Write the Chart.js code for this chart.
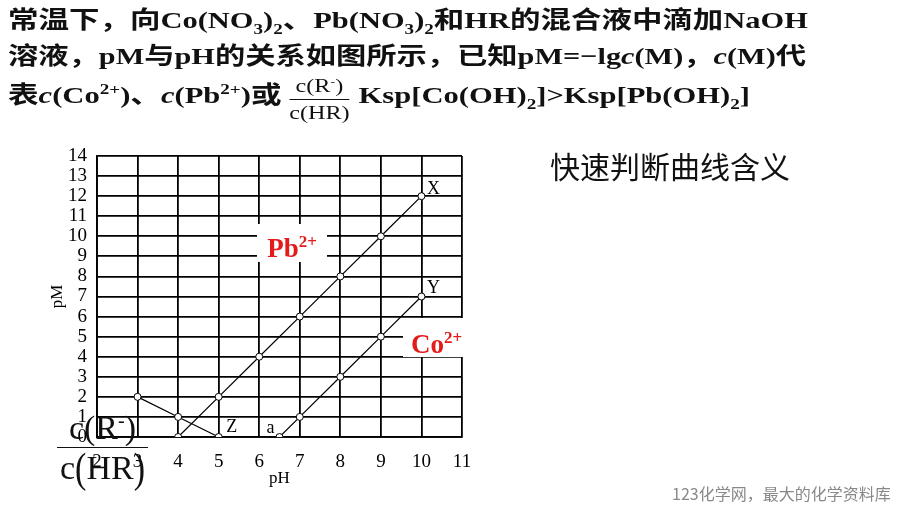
<!DOCTYPE html>
<html lang="zh">
<head>
<meta charset="UTF-8">
<title>pM - pH</title>
<style>
    body { margin: 0; width: 900px; height: 506px; background: #fff; position: relative; overflow: hidden; }
    .serif { font-family: 'Liberation Serif', 'Noto Sans CJK SC', serif; }
    .q { position: absolute; left: 8px; font-size: 24px; font-weight: bold; color: #111; line-height: 30px; white-space: nowrap; transform-origin: left center; }
    .q sub, .q sup { font-size: 15px; line-height: 0; }
    .frac { display: inline-block; vertical-align: middle; text-align: center; font-weight: normal; font-size: 19px; line-height: 22px; margin: 0 7px 0 6px; position: relative; top: 2px; }
    .frac .num { border-bottom: 1px solid #111; padding: 0 3px 2px; }
    .frac .den { padding-top: 2px; }
    #chartBox { position: absolute; left: 0; top: 0; }
    .tag { position: absolute; background: #fff; color: #e31b1b; font-weight: bold; font-size: 27px; text-align: center; }
    .tag sup { font-size: 17px; }
    #big { position: absolute; left: 57px; top: 402px; width: 91px; text-align: center; font-size: 34px; color: #111; }
    #big .num { line-height: 36px; border-bottom: 1.5px solid #111; padding-bottom: 1px; }
    #big .den { line-height: 40px; }
    #big .p { display: inline-block; transform: scaleY(1.25); }
    #side { position: absolute; left: 550px; top: 143px; font-family: 'Noto Sans CJK SC', sans-serif; font-size: 30px; color: #111; }
    #foot { position: absolute; left: 672px; top: 481px; font-family: 'Noto Sans CJK SC', sans-serif; font-size: 16px; color: #888; }
</style>
</head>
<body>
<div id="chartBox"><canvas id="c" width="900" height="506"></canvas></div>

<div class="q serif" style="top:5px;" data-w="800">常温下，向Co(NO<sub>3</sub>)<sub>2</sub>、Pb(NO<sub>3</sub>)<sub>2</sub>和HR的混合液中滴加NaOH</div>
<div class="q serif" style="top:41px;" data-w="798">溶液，pM与pH的关系如图所示，已知pM=−lg<i>c</i>(M)，<i>c</i>(M)代</div>
<div class="q serif" style="top:73px;" data-w="742">表<i>c</i>(Co<sup>2+</sup>)、<i>c</i>(Pb<sup>2+</sup>)或<span class="frac"><div class="num">c(R<sup style="font-size:11px">-</sup>)</div><div class="den">c(HR)</div></span>Ksp[Co(OH)<sub>2</sub>]&gt;Ksp[Pb(OH)<sub>2</sub>]</div>

<div class="tag serif" style="left:257px; top:224px; width:70px; height:38px; line-height:36px;">Pb<sup>2+</sup></div>
<div class="tag serif" style="left:403px; top:318px; width:67px; height:39px; line-height:40px;">Co<sup>2+</sup></div>

<div id="big" class="serif"><div class="num">c(R<sup style="font-size:20px">-</sup>)</div><div class="den">c<span class="p">(</span>HR<span class="p">)</span></div></div>

<div id="side">快速判断曲线含义</div>
<div id="foot">123化学网，最大的化学资料库</div>

<script src="https://cdn.jsdelivr.net/npm/chart.js"></script>
<script>
    // values
    const pbPH = [4, 5, 6, 7, 8, 9, 10];
    const pbPM = [0, 2, 4, 6, 8, 10, 12];
    const coPH = [6.5, 7, 8, 9, 10];
    const coPM = [0, 1, 3, 5, 7];
    const hrPH = [3, 4, 5];
    const hrPM = [2, 1, 0];

    // letters next to some points: [dataset, point index, text]
    const pointTags = [[0, 6, 'X'], [1, 4, 'Y'], [2, 2, 'Z'], [1, 0, 'a']];
    const tagOffset = { X: [12, -7], Y: [12, -8], Z: [13, -10], a: [-9, -9] };

    const serif = "'Liberation Serif', 'Times New Roman', serif";

    // the question text in the picture is stretched sideways, fit each line to its width
    document.querySelectorAll('.q').forEach(el => {
        const w = el.getBoundingClientRect().width;
        el.style.transform = 'scaleX(' + (parseFloat(el.dataset.w) / w) + ')';
    });

    function toPts(xs, ys) {
        return xs.map((x, i) => ({ x: x, y: ys[i] }));
    }

    function lineSet(xs, ys) {
        return {
            data: toPts(xs, ys),
            showLine: true,
            borderColor: '#000',
            borderWidth: 1.2,
            pointRadius: 3.5,
            pointBackgroundColor: '#fff',
            pointBorderColor: '#000',
            pointBorderWidth: 1
        };
    }

    const tagPlugin = {
        id: 'tags',
        afterDatasetsDraw(chart) {
            const ctx = chart.ctx;
            ctx.save();
            ctx.font = '18px ' + serif;
            ctx.fillStyle = '#000';
            ctx.textAlign = 'center';
            ctx.textBaseline = 'middle';
            pointTags.forEach(([ds, idx, txt]) => {
                const el = chart.getDatasetMeta(ds).data[idx];
                const off = tagOffset[txt];
                ctx.fillText(txt, el.x + off[0], el.y + off[1]);
            });
            ctx.restore();
        }
    };

    new Chart(document.getElementById('c'), {
        type: 'scatter',
        data: {
            datasets: [lineSet(pbPH, pbPM), lineSet(coPH, coPM), lineSet(hrPH, hrPM)]
        },
        options: {
            responsive: false,
            animation: false,
            layout: { padding: { left: 45, top: 156, right: 438, bottom: 14 } },
            plugins: { legend: { display: false }, tooltip: { enabled: false } },
            scales: {
                x: {
                    min: 2, max: 11,
                    afterFit(s) { s.height = 55; },
                    grid: { color: '#000', lineWidth: 1.8, drawTicks: false },
                    border: { color: '#000', width: 1.8 },
                    ticks: { stepSize: 1, autoSkip: false, padding: 14, color: '#000', font: { family: serif, size: 19 } },
                    title: { display: true, text: 'pH', color: '#000', padding: { top: 0, bottom: 3 }, font: { family: serif, size: 17 } }
                },
                y: {
                    min: 0, max: 14,
                    afterFit(s) { s.width = 52; },
                    grid: { color: '#000', lineWidth: 1.8, drawTicks: false },
                    border: { color: '#000', width: 1.8 },
                    ticks: { stepSize: 1, autoSkip: false, padding: 10, color: '#000', font: { family: serif, size: 19 } },
                    title: { display: true, text: 'pM', color: '#000', padding: { top: 2, bottom: 0 }, font: { family: serif, size: 17 } }
                }
            }
        },
        plugins: [tagPlugin]
    });
</script>
</body>
</html>
